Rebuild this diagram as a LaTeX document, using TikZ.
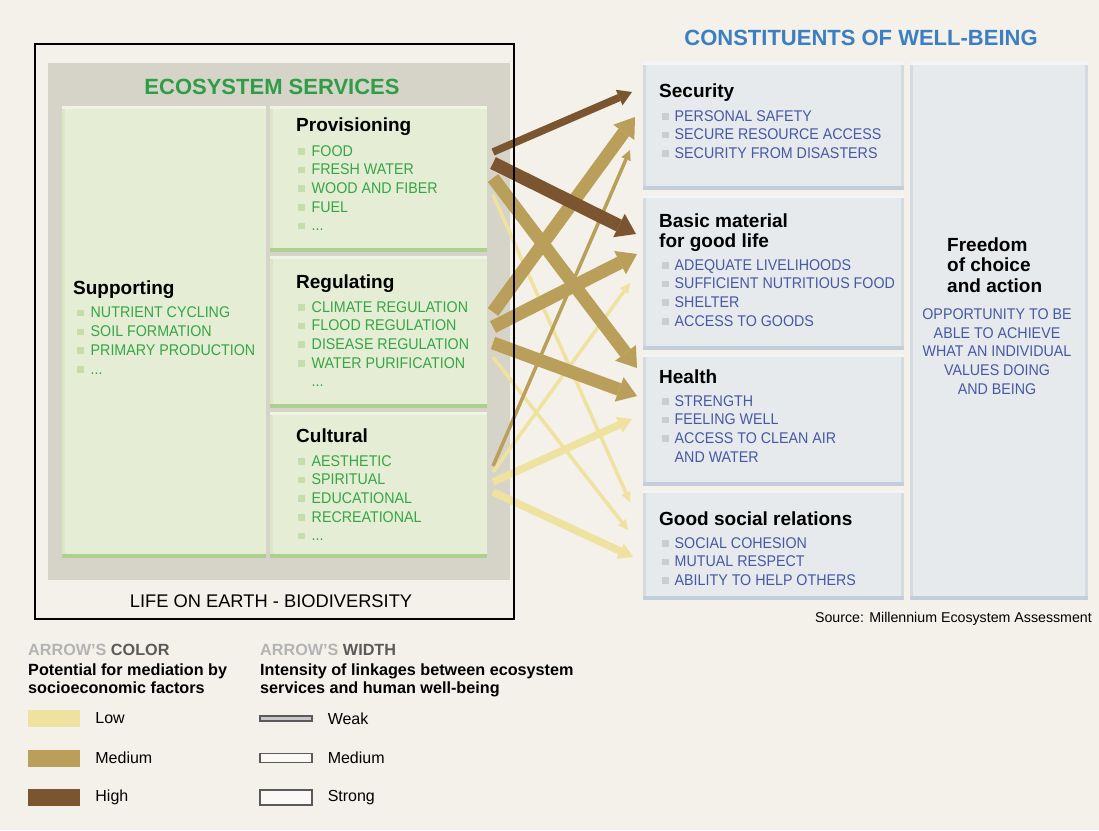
\documentclass[tikz,border=0pt]{standalone}
\usepackage{fontspec}
\setmainfont{Liberation Sans}
\newfontfamily\itemfont[FakeStretch=0.92]{Liberation Sans}
\usetikzlibrary{arrows.meta,positioning}

\definecolor{bgc}{HTML}{F3F1E9}
\definecolor{greyc}{HTML}{D6D4C8}
\definecolor{greenbox}{HTML}{E5EED4}
\definecolor{greenedge}{HTML}{ADCF90}
\definecolor{greenlight}{HTML}{EFF5E4}
\definecolor{greenside}{HTML}{D9E7C6}
\definecolor{greentext}{HTML}{36A547}
\definecolor{greentitle}{HTML}{2F9D48}
\definecolor{greenbul}{HTML}{C6DDA9}
\definecolor{bluebox}{HTML}{E7EAEC}
\definecolor{blueedge}{HTML}{C4CDDA}
\definecolor{bluelight}{HTML}{F2F4F6}
\definecolor{blueside}{HTML}{D5DAE1}
\definecolor{bluetext}{HTML}{4659A4}
\definecolor{bluetitle}{HTML}{3B7EC1}
\definecolor{bluebul}{HTML}{CACED2}
\definecolor{lowc}{HTML}{EFE2A0}
\definecolor{medc}{HTML}{B99F59}
\definecolor{highc}{HTML}{7A552F}
\definecolor{leggrey}{HTML}{B3B3B3}
\definecolor{legdark}{HTML}{5A5A5A}

\newcommand{\gbul}{\textcolor{greenbul}{\rule[1.5pt]{6.5pt}{6.5pt}}\hspace{7pt}}
\newcommand{\bbul}{\textcolor{bluebul}{\rule[1.5pt]{6.5pt}{6.5pt}}\hspace{6pt}}

% multi-line nodes: anchor=base sits on the last line
\tikzset{
  gbox/.style={fill=greenbox, inner sep=0, outer sep=0},
  wbox/.style={fill=bluebox, inner sep=0, outer sep=0},
  bigtitle/.style={font=\bfseries\fontsize{22}{24}\selectfont, anchor=base, inner sep=0},
  boxhead/.style={font=\bfseries\fontsize{19}{20.5}\selectfont, anchor=base west, align=left, inner sep=0},
  glist/.style={font=\itemfont\fontsize{15.5}{18.7}\selectfont, text=greentext, anchor=base west, align=left, inner sep=0},
  blist/.style={font=\itemfont\fontsize{15.5}{18.7}\selectfont, text=bluetext, anchor=base west, align=left, inner sep=0},
  legbold/.style={font=\bfseries\fontsize{16.2}{18.5}\selectfont, anchor=base west, align=left, inner sep=0},
  leglabel/.style={font=\fontsize{16}{18}\selectfont, inner sep=0},
  swatch/.style={minimum width=52pt, minimum height=17pt, inner sep=0},
  wsample/.style={draw=legdark, line width=1.1pt, fill=white!60!bgc, minimum width=52pt, inner sep=0},
  linkweak/.style={line width=3.5pt, -{Triangle[length=10pt,width=10pt,line width=0pt]}},
  linkmed/.style={line width=7.5pt, -{Triangle[length=14pt,width=17pt,line width=0pt]}},
  linkstrong/.style={line width=13pt, -{Triangle[length=19pt,width=26pt,line width=0pt]}}
}

\begin{document}
\begin{tikzpicture}[x=1pt,y=-1pt]
\fill[bgc] (0,0) rectangle (1099,830);
\useasboundingbox (0,0) rectangle (1099,830);

% ecosystem services
\fill[greyc] (48,63) rectangle (510,580);
\node[bigtitle, text=greentitle] (estitle) at (272,94) {ECOSYSTEM SERVICES};

\node[gbox, minimum width=204pt, minimum height=452pt] (sup) at (164,332) {};
\node[gbox, minimum width=217pt, minimum height=146pt] (prov) at (378.5,179) {};
\node[gbox, minimum width=217pt, minimum height=152pt] (reg) at (378.5,332) {};
\node[gbox, minimum width=217pt, minimum height=146pt] (cult) at (378.5,485) {};
\foreach \b in {sup,prov,reg,cult}{
  \fill[greenside] (\b.north west) rectangle ([shift={(3,0)}]\b.south west);
  \fill[greenlight] (\b.north west) rectangle ([shift={(0,3)}]\b.north east);
  \fill[greenedge] ([shift={(0,-4)}]\b.south west) rectangle (\b.south east);
}

\node[boxhead] (suph) at ([shift={(11,-38)}]sup.west) {Supporting};
\node[glist] (supl) at ([shift={(15,42)}]sup.west)
  {\gbul NUTRIENT CYCLING\\\gbul SOIL FORMATION\\\gbul PRIMARY PRODUCTION\\\gbul ...};
\node[boxhead] (provh) at ([shift={(26,25)}]prov.north west) {Provisioning};
\node[glist] (provl) at ([shift={(28,124.8)}]prov.north west)
  {\gbul FOOD\\\gbul FRESH WATER\\\gbul WOOD AND FIBER\\\gbul FUEL\\\gbul ...};
\node[boxhead] (regh) at ([shift={(26,32)}]reg.north west) {Regulating};
\node[glist] (regl) at ([shift={(28,130.8)}]reg.north west)
  {\gbul CLIMATE REGULATION\\\gbul FLOOD REGULATION\\\gbul DISEASE REGULATION\\\gbul WATER PURIFICATION\\\hspace{13.5pt}...};
\node[boxhead] (culth) at ([shift={(26,30)}]cult.north west) {Cultural};
\node[glist] (cultl) at ([shift={(28,128.8)}]cult.north west)
  {\gbul AESTHETIC\\\gbul SPIRITUAL\\\gbul EDUCATIONAL\\\gbul RECREATIONAL\\\gbul ...};

\node[font=\fontsize{18.3}{20}\selectfont, anchor=base, inner sep=0] (life) at (271,607) {LIFE ON EARTH - BIODIVERSITY};

% constituents of well-being
\node[bigtitle, text=bluetitle] (wbtitle) at (861,45) {CONSTITUENTS OF WELL-BEING};

\node[wbox, minimum width=261pt, minimum height=128pt] (sec) at (773.5,126) {};
\node[wbox, minimum width=261pt, minimum height=155pt] (basic) at (773.5,272.5) {};
\node[wbox, minimum width=261pt, minimum height=132pt] (health) at (773.5,420) {};
\node[wbox, minimum width=261pt, minimum height=110pt] (social) at (773.5,545) {};
\node[wbox, minimum width=178pt, minimum height=538pt] (free) at (999,331) {};
\foreach \b in {sec,basic,health,social,free}{
  \fill[blueside] (\b.north west) rectangle ([shift={(3,0)}]\b.south west);
  \fill[blueside] ([shift={(-3,0)}]\b.north east) rectangle (\b.south east);
  \fill[bluelight] (\b.north west) rectangle ([shift={(0,3)}]\b.north east);
  \fill[blueedge] ([shift={(0,-4)}]\b.south west) rectangle (\b.south east);
}

\node[boxhead] (sech) at ([shift={(16,35)}]sec.north west) {Security};
\node[blist] (secl) at ([shift={(19,96.4)}]sec.north west)
  {\bbul PERSONAL SAFETY\\\bbul SECURE RESOURCE ACCESS\\\bbul SECURITY FROM DISASTERS};
\node[boxhead] (basich) at ([shift={(16,52.5)}]basic.north west) {Basic material\\for good life};
\node[blist] (basicl) at ([shift={(19,131.1)}]basic.north west)
  {\bbul ADEQUATE LIVELIHOODS\\\bbul SUFFICIENT NUTRITIOUS FOOD\\\bbul SHELTER\\\bbul ACCESS TO GOODS};
\node[boxhead] (healthh) at ([shift={(16,29)}]health.north west) {Health};
\node[blist] (healthl) at ([shift={(19,108.1)}]health.north west)
  {\bbul STRENGTH\\\bbul FEELING WELL\\\bbul ACCESS TO CLEAN AIR\\\hspace{12.5pt}AND WATER};
\node[boxhead] (socialh) at ([shift={(16,35)}]social.north west) {Good social relations};
\node[blist] (sociall) at ([shift={(19,95.4)}]social.north west)
  {\bbul SOCIAL COHESION\\\bbul MUTUAL RESPECT\\\bbul ABILITY TO HELP OTHERS};
\node[boxhead] (freeh) at ([shift={(37,230)}]free.north west) {Freedom\\of choice\\and action};
\node[blist, anchor=base, align=center] (freel) at ([shift={(-2,332.2)}]free.north)
  {OPPORTUNITY TO BE\\ABLE TO ACHIEVE\\WHAT AN INDIVIDUAL\\VALUES DOING\\AND BEING};

\node[font=\fontsize{14.2}{16}\selectfont, anchor=base east, inner sep=0] (source) at (1092,622) {Source: Millennium Ecosystem Assessment};

% linkages: low, then medium, then high
\draw[lowc, linkweak] ([shift={(6,16)}]prov.east) -- ([shift={(-13,-43)}]social.west);
\draw[lowc, linkweak] ([shift={(6,25)}]reg.east) -- ([shift={(-15,-15)}]social.west);
\draw[lowc, linkweak] ([shift={(6,-13)}]cult.east) -- ([shift={(-13,10.5)}]basic.west);
\draw[lowc, linkmed] ([shift={(6,-3)}]cult.east) -- ([shift={(-11,-1)}]health.west);
\draw[lowc, linkmed] ([shift={(6,7)}]cult.east) -- ([shift={(-10,12)}]social.west);
\draw[medc, linkweak] ([shift={(6,-19)}]cult.east) -- ([shift={(-13,24)}]sec.west);
\draw[medc, linkstrong] ([shift={(6,-1)}]prov.east) -- ([shift={(-6,-52)}]health.west);
\draw[medc, linkstrong] ([shift={(6,-20)}]reg.east) -- ([shift={(-8,-9)}]sec.west);
\draw[medc, linkstrong] ([shift={(6,-5)}]reg.east) -- ([shift={(-6,-18.5)}]basic.west);
\draw[medc, linkstrong] ([shift={(6,11)}]reg.east) -- ([shift={(-6,-24)}]health.west);
\draw[highc, linkmed] ([shift={(6,-27)}]prov.east) -- ([shift={(-11,-34)}]sec.west);
\draw[highc, linkstrong] ([shift={(6,-16)}]prov.east) -- ([shift={(-7,-38.5)}]basic.west);

\draw[line width=2pt] (35,44) rectangle (514,619);

% legend
\node[legbold] (colkey) at (28,655) {\textcolor{leggrey}{ARROW'S} \textcolor{legdark}{COLOR}};
\node[legbold] (coltext) at (28,693.5) {Potential for mediation by\\socioeconomic factors};
\node[legbold] (widkey) at (260,655) {\textcolor{leggrey}{ARROW'S} \textcolor{legdark}{WIDTH}};
\node[legbold] (widtext) at (260,693.5) {Intensity of linkages between ecosystem\\services and human well-being};

\node[swatch, fill=lowc] (lowsw) at (54,718.5) {};
\node[swatch, fill=medc] (medsw) at (54,758) {};
\node[swatch, fill=highc] (highsw) at (54,797.5) {};
\node[leglabel, right=15pt of lowsw] (lowlab) {Low};
\node[leglabel, right=15pt of medsw] (medlab) {Medium};
\node[leglabel, right=15pt of highsw] (highlab) {High};

\node[wsample, minimum height=5pt, fill=black!22] (weaksw) at (286,718.5) {};
\node[wsample, minimum height=9pt] (medwsw) at (286,758) {};
\node[wsample, minimum height=15pt] (strongsw) at (286,797.5) {};
\node[leglabel, right=15pt of weaksw] (weaklab) {Weak};
\node[leglabel, right=15pt of medwsw] (medwlab) {Medium};
\node[leglabel, right=15pt of strongsw] (stronglab) {Strong};
\end{tikzpicture}
\end{document}
